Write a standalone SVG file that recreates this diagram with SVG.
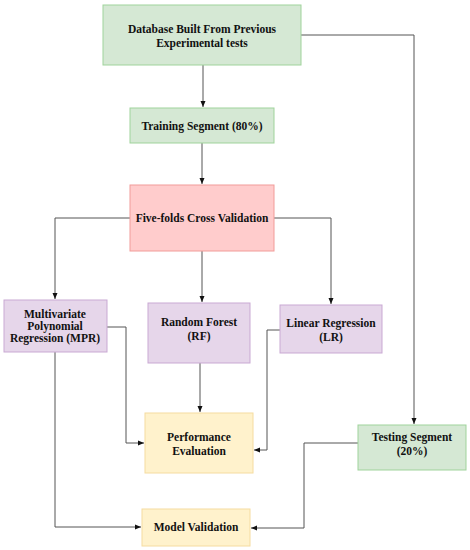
<svg xmlns="http://www.w3.org/2000/svg" width="470" height="550" viewBox="0 0 470 550">
<defs>
<style>
text{font-family:"Liberation Serif","Times New Roman",serif;font-weight:bold;font-size:11.5px;fill:#111;text-anchor:middle;dominant-baseline:central}
.g{fill:#d5e8d4;stroke:#9fd39b;stroke-width:1}
.r{fill:#ffcccc;stroke:#f19c99;stroke-width:1}
.p{fill:#e6d6ea;stroke:#c9a9d3;stroke-width:1}
.y{fill:#fff2cc;stroke:#f5dca0;stroke-width:1}
.c{fill:none;stroke:#555;stroke-width:1}
</style>
<marker id="a" markerWidth="8" markerHeight="8" refX="7" refY="4" orient="auto" markerUnits="userSpaceOnUse">
<path d="M1,1.5 L7,4 L1,6.5 Z" fill="#111"/>
</marker>
</defs>
<rect width="470" height="550" fill="#fff"/>
<g id="connectors">
<path class="c" d="M203,65 V107" marker-end="url(#a)"/>
<path class="c" d="M301,35 H414 V424" marker-end="url(#a)"/>
<path class="c" d="M202,143 V184" marker-end="url(#a)"/>
<path class="c" d="M130,218 H55 V299" marker-end="url(#a)"/>
<path class="c" d="M202,251 V302" marker-end="url(#a)"/>
<path class="c" d="M274,218 H331 V304" marker-end="url(#a)"/>
<path class="c" d="M107,327 H126 V443 H144" marker-end="url(#a)"/>
<path class="c" d="M200,363 V412" marker-end="url(#a)"/>
<path class="c" d="M280,330 H267 V450 H254" marker-end="url(#a)"/>
<path class="c" d="M55,352 V527 H141" marker-end="url(#a)"/>
<path class="c" d="M358,443 H304 V528 H251" marker-end="url(#a)"/>
</g>
<g id="database">
<rect class="g" x="103" y="5" width="198" height="60"/>
<text x="202" y="29">Database Built From Previous</text>
<text x="202" y="43">Experimental tests</text>
</g>
<g id="training">
<rect class="g" x="130" y="108" width="144" height="35"/>
<text x="202" y="126">Training Segment (80%)</text>
</g>
<g id="crossval">
<rect class="r" x="130" y="185" width="144" height="66"/>
<text x="202" y="218">Five-folds Cross Validation</text>
</g>
<g id="mpr">
<rect class="p" x="4" y="300" width="103" height="52"/>
<text x="55" y="314">Multivariate</text>
<text x="55" y="326">Polynomial</text>
<text x="55" y="338">Regression (MPR)</text>
</g>
<g id="rf">
<rect class="p" x="148" y="303" width="102" height="60"/>
<text x="199" y="322">Random Forest</text>
<text x="199" y="336">(RF)</text>
</g>
<g id="lr">
<rect class="p" x="280" y="305" width="102" height="48"/>
<text x="331" y="323">Linear Regression</text>
<text x="331" y="337">(LR)</text>
</g>
<g id="perf">
<rect class="y" x="145" y="413" width="108" height="60"/>
<text x="199" y="437">Performance</text>
<text x="199" y="451">Evaluation</text>
</g>
<g id="testing">
<rect class="g" x="358" y="425" width="108" height="45"/>
<text x="412" y="437">Testing Segment</text>
<text x="412" y="451">(20%)</text>
</g>
<g id="modelval">
<rect class="y" x="142" y="509" width="108" height="37"/>
<text x="196" y="527">Model Validation</text>
</g>
</svg>
